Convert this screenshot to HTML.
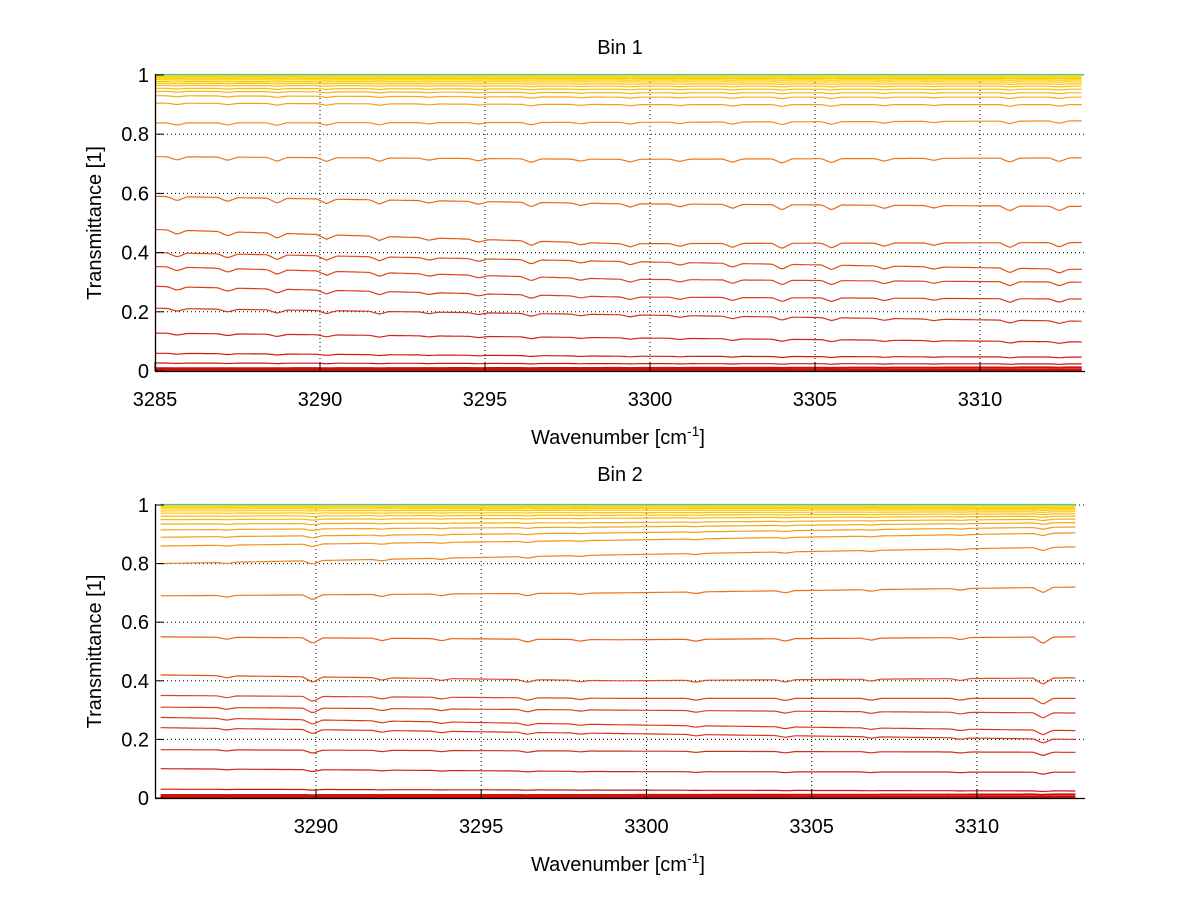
<!DOCTYPE html>
<html><head><meta charset="utf-8">
<style>
html,body{margin:0;padding:0;background:#fff;}
svg{display:block;font-family:"Liberation Sans",sans-serif;}
</style></head>
<body>
<svg id="chart" width="1200" height="901" viewBox="0 0 1200 901" xmlns="http://www.w3.org/2000/svg">
<rect width="1200" height="901" fill="#fff"/>
</svg>
<script>
// ---- data ----
const xTicks1 = [3285, 3290, 3295, 3300, 3305, 3310];
const xTicks2 = [3290, 3295, 3300, 3305, 3310];
const yTicks = [0, 0.2, 0.4, 0.6, 0.8, 1];
const yTickLabels = ["0", "0.2", "0.4", "0.6", "0.8", "1"];
// Bin 1 series: transmittance at left, middle, right
const bin1Start = [0.001,0.004,0.009,0.027,0.06,0.128,0.212,0.286,0.353,0.40,0.478,0.59,0.724,0.838,0.905,0.93,0.945,0.955,0.965,0.972,0.978,0.984,0.989,0.993,0.996,0.999];
const bin1Mid   = [0.001,0.004,0.010,0.025,0.05,0.112,0.19,0.25,0.31,0.37,0.43,0.565,0.715,0.84,0.90,0.925,0.94,0.952,0.962,0.970,0.977,0.983,0.988,0.992,0.996,0.999];
const bin1End   = [0.001,0.004,0.012,0.024,0.047,0.098,0.168,0.243,0.30,0.343,0.434,0.556,0.72,0.845,0.90,0.925,0.94,0.952,0.962,0.970,0.977,0.983,0.988,0.992,0.996,0.999];
// Bin 2 series
const bin2Start = [0.001,0.004,0.01,0.03,0.10,0.165,0.24,0.275,0.31,0.35,0.42,0.55,0.69,0.80,0.86,0.89,0.915,0.935,0.95,0.962,0.972,0.98,0.987,0.992,0.996,0.999];
const bin2Mid   = [0.001,0.004,0.01,0.027,0.09,0.16,0.22,0.25,0.30,0.34,0.40,0.54,0.70,0.83,0.88,0.905,0.925,0.94,0.955,0.965,0.974,0.982,0.988,0.992,0.996,0.999];
const bin2End   = [0.001,0.004,0.012,0.024,0.088,0.156,0.20,0.23,0.29,0.34,0.41,0.55,0.72,0.857,0.905,0.925,0.94,0.952,0.962,0.970,0.977,0.983,0.988,0.992,0.996,0.999];
// absorption dips (wavenumber, relative depth)
const dipPos1 = [3285.67,3287.2,3288.7,3290.2,3291.8,3293.3,3294.8,3296.4,3297.9,3299.4,3300.9,3302.5,3304.0,3305.5,3307.1,3308.6,3310.9,3312.4];
const dipDepth1 = [1.0,1.0,1.2,1.1,1.0,0.6,0.7,1.1,0.6,0.8,0.7,1.0,1.3,1.2,0.8,0.6,1.2,1.1];
const dipPos2 = [3287.3,3289.9,3292.0,3293.8,3296.4,3298.0,3301.5,3304.2,3306.8,3309.5,3312.0];
const dipDepth2 = [0.5,1.4,0.6,0.5,0.7,0.4,0.5,0.6,0.5,0.5,1.6];

// ---- helpers ----
const NS = "http://www.w3.org/2000/svg";
const svg = document.getElementById("chart");
function mk(tag, attrs, parent){
  const e = document.createElementNS(NS, tag);
  for (const k in attrs) e.setAttribute(k, attrs[k]);
  (parent||svg).appendChild(e);
  return e;
}
function colorFor(v){
  const stops=[[0,[204,16,16]],[0.2,[214,50,24]],[0.5,[232,90,24]],[0.8,[238,130,30]],[0.93,[244,170,20]],[1,[255,214,0]]];
  for(let i=1;i<stops.length;i++){
    if(v<=stops[i][0]){
      const a=stops[i-1],b=stops[i],t=(v-a[0])/(b[0]-a[0]);
      const c=a[1].map((x,j)=>Math.round(x+(b[1][j]-x)*t));
      return `rgb(${c[0]},${c[1]},${c[2]})`;
    }
  }
  return "rgb(255,214,0)";
}

function drawPanel(cfg){
  const g = mk("g", {});
  
  
  const sx = x => cfg.left + (x - cfg.xmin) / (cfg.xmax - cfg.xmin) * (cfg.right - cfg.left);
  const sy = y => cfg.y0 + (cfg.y1 - cfg.y0) * y;
  cfg.xTicks.forEach(t=>{
    if (Math.abs(sx(t)-cfg.left) > 2){
      const l = mk("line",{x1:sx(t),x2:sx(t),y1:sy(0),y2:sy(1),stroke:"#000","stroke-width":1,"stroke-dasharray":"1,3"},g);
      
      
    }
  });
  yTicks.forEach(t=>{
    if (t>0){
      const l = mk("line",{x1:cfg.left,x2:cfg.right,y1:sy(t),y2:sy(t),stroke:"#000","stroke-width":1,"stroke-dasharray":"1,3"},g);
      
      
    }
  });
  const n = cfg.start.length;
  for (let i=0;i<n;i++){
    const a=cfg.start[i], m=cfg.mid[i], b=cfg.end[i];
    const xm=(cfg.dx0+cfg.dx1)/2;
    let d="";
    for (let x=cfg.dx0; x<=cfg.dx1+1e-9; x+=0.08){
      let v = x<xm ? a+(m-a)*(x-cfg.dx0)/(xm-cfg.dx0) : m+(b-m)*(x-xm)/(cfg.dx1-xm);
      const amp = 4*v*(1-v)*0.014;
      cfg.dipPos.forEach((p,k)=>{
        const dd=Math.abs(x-p);
        if (dd<0.3) v -= amp*cfg.dipDepth[k]*(1-dd/0.3);
      });
      d += (d?"L":"M")+sx(x).toFixed(1)+","+sy(v).toFixed(1);
    }
    const p = mk("path",{d:d,fill:"none",stroke:colorFor(a),"stroke-width":i<3?2.2:1.2},g);
    
    
  }
  const tp = mk("line",{x1:sx(cfg.dx0),x2:sx(cfg.dx1),y1:sy(1)-0.5,y2:sy(1)-0.5,stroke:"#3cc8c0","stroke-width":1.2},g);
  
  
  const ax = mk("line",{x1:cfg.left,x2:cfg.right,y1:sy(0)+0.5,y2:sy(0)+0.5,stroke:"#000","stroke-width":1.3},g);
  
  
  const ay = mk("line",{x1:cfg.left+0.5,x2:cfg.left+0.5,y1:sy(0),y2:sy(1)-1,stroke:"#000","stroke-width":1.3},g);
  
  
  cfg.xTicks.forEach(t=>{
    const tk = mk("line",{x1:sx(t),x2:sx(t),y1:sy(0),y2:sy(0)-9,stroke:"#000","stroke-width":1},g);
    
    
    const tl = mk("text",{x:sx(t),y:sy(0)+35,"text-anchor":"middle","font-size":20,fill:"#000"},g);
    tl.textContent = t;
    
    
  });
  yTicks.forEach((t,i)=>{
    const tk = mk("line",{x1:cfg.left,x2:cfg.left+9,y1:sy(t),y2:sy(t),stroke:"#000","stroke-width":1},g);
    
    
    const tl = mk("text",{x:cfg.left-6,y:sy(t)+7,"text-anchor":"end","font-size":20,fill:"#000"},g);
    tl.textContent = yTickLabels[i];
    
    
  });
  const tt = mk("text",{x:620,y:cfg.titleY,"text-anchor":"middle","font-size":20,fill:"#000"},g);
  tt.textContent = cfg.title;
  
  
  const xl = mk("text",{x:618,y:cfg.xLabelY,"text-anchor":"middle","font-size":20,fill:"#000"},g);
  xl.innerHTML = 'Wavenumber [cm<tspan dy="-8" font-size="14">-1</tspan><tspan dy="8">]</tspan>';
  
  
  const yc = (sy(0)+sy(1))/2;
  const yl = mk("text",{x:0,y:0,"text-anchor":"middle","font-size":20,fill:"#000",transform:`translate(101,${yc}) rotate(-90)`},g);
  yl.textContent = "Transmittance [1]";
  
  
}

drawPanel({name:"bin-1-panel",title:"Bin 1",titleY:54,xLabelY:444,left:155,right:1085,xmin:3285,xmax:3313.18,dx0:3285,dx1:3313.15,y0:371,y1:75,
  xTicks:xTicks1,start:bin1Start,mid:bin1Mid,end:bin1End,dipPos:dipPos1,dipDepth:dipDepth1});
drawPanel({name:"bin-2-panel",title:"Bin 2",titleY:481,xLabelY:871,left:155,right:1085,xmin:3285.13,xmax:3313.27,dx0:3285.3,dx1:3313.0,y0:798,y1:505,
  xTicks:xTicks2,start:bin2Start,mid:bin2Mid,end:bin2End,dipPos:dipPos2,dipDepth:dipDepth2});
</script>
</body></html>
